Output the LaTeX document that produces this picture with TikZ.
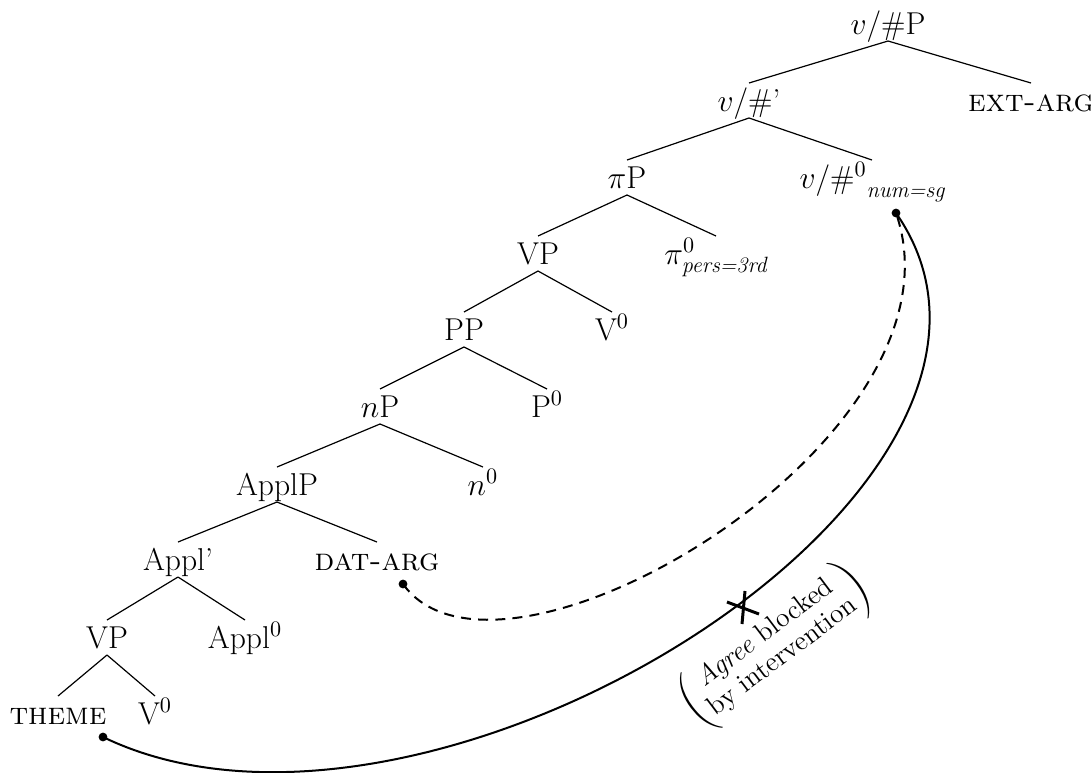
\RequirePackage{fix-cm}
\documentclass[tikz,border=0pt]{standalone}
\usepackage{amsmath}
\usepackage{fontspec}
\usetikzlibrary{calc}
\tikzset{
  lbl/.style={anchor=base, inner sep=0pt, font=\fontsize{15.8}{18}\selectfont},
  branch/.style={line width=0.6pt},
  dotn/.style={circle, fill=black, inner sep=0pt, minimum size=4.4pt},
  agreeline/.style={line width=1pt},
  agreedash/.style={line width=1pt, dash pattern=on 5pt off 3.6pt},
  blockmark/.style={line width=1.5pt},
}
\newcommand{\br}[2]{\draw[branch] ([yshift=-3.5pt]#1.base) -- ([yshift=14pt]#2.base);}
\newcommand{\featsub}[1]{\raisebox{-4.5pt}{\fontsize{11.2}{13}\itshape #1}}
\begin{document}
\begin{tikzpicture}[x=0.5pt,y=-0.5pt]
\useasboundingbox (0,0) rectangle (1091,772);
% nodes
\node[lbl] (vP)    at (888,34)  {$v$/\#P};
\node[lbl] (vbar)  at (749,111) {$v$/\#’};
\node[lbl] (ext)   at (1031,111){\textsc{ext-arg}};
\node[lbl] (piP)   at (627,188) {$\pi$P};
\node[lbl] (vzero) at (872,188) {$v$/\#$^0$\featsub{num=sg}};
\node[lbl] (VP)    at (538,264) {VP};
\node[lbl] (pizero) at (716,264) {$\pi^0_{\textit{pers=3rd}}$};
\node[lbl] (PP)    at (464,340) {PP};
\node[lbl] (Vzero) at (612,340) {V$^0$};
\node[lbl] (nP)    at (380,417) {$n$P};
\node[lbl] (Pzero) at (547,417) {P$^0$};
\node[lbl] (ApplP) at (277,495) {ApplP};
\node[lbl] (nzero) at (483,495) {$n^0$};
\node[lbl] (Applb) at (178,570) {Appl’};
\node[lbl] (dat)   at (377,570) {\textsc{dat-arg}};
\node[lbl] (VPb)   at (107,648) {VP};
\node[lbl] (Applz) at (245,648) {Appl$^0$};
\node[lbl] (theme) at (58,724)  {\textsc{theme}};
\node[lbl] (Vzb)   at (155,724) {V$^0$};
% branches
\br{vP}{vbar}\br{vP}{ext}
\br{vbar}{piP}\br{vbar}{vzero}
\br{piP}{VP}\br{piP}{pizero}
\br{VP}{PP}\br{VP}{Vzero}
\br{PP}{nP}\br{PP}{Pzero}
\br{nP}{ApplP}\br{nP}{nzero}
\br{ApplP}{Applb}\br{ApplP}{dat}
\br{Applb}{VPb}\br{Applb}{Applz}
\br{VPb}{theme}\br{VPb}{Vzb}
% dots
\node[dotn] (dv) at (896,213) {};
\node[dotn] (dd) at (403,584) {};
\node[dotn] (dt) at (103,737) {};
% agree curves
\draw[agreedash] (dd.center) .. controls (500,720) and (975,440) .. (dv.center);
\draw[agreeline] (dt.center) .. controls (430,895) and (1085,485) .. (dv.center);
% blocking mark
\coordinate (x) at (743,608);
\draw[blockmark] ($(x)+(-16,-6)$) -- ($(x)+(16,6)$);
\draw[blockmark] ($(x)+(2,-17)$) -- ($(x)+(-1,16)$);
% label
\node[rotate=37, inner sep=0pt, font=\fontsize{13.8}{14.5}\selectfont] (blk) at (775,646)
  {$\left(\begin{tabular}{@{}c@{}}\textit{Agree} blocked\\ by intervention\end{tabular}\right)$};
\end{tikzpicture}
\end{document}
